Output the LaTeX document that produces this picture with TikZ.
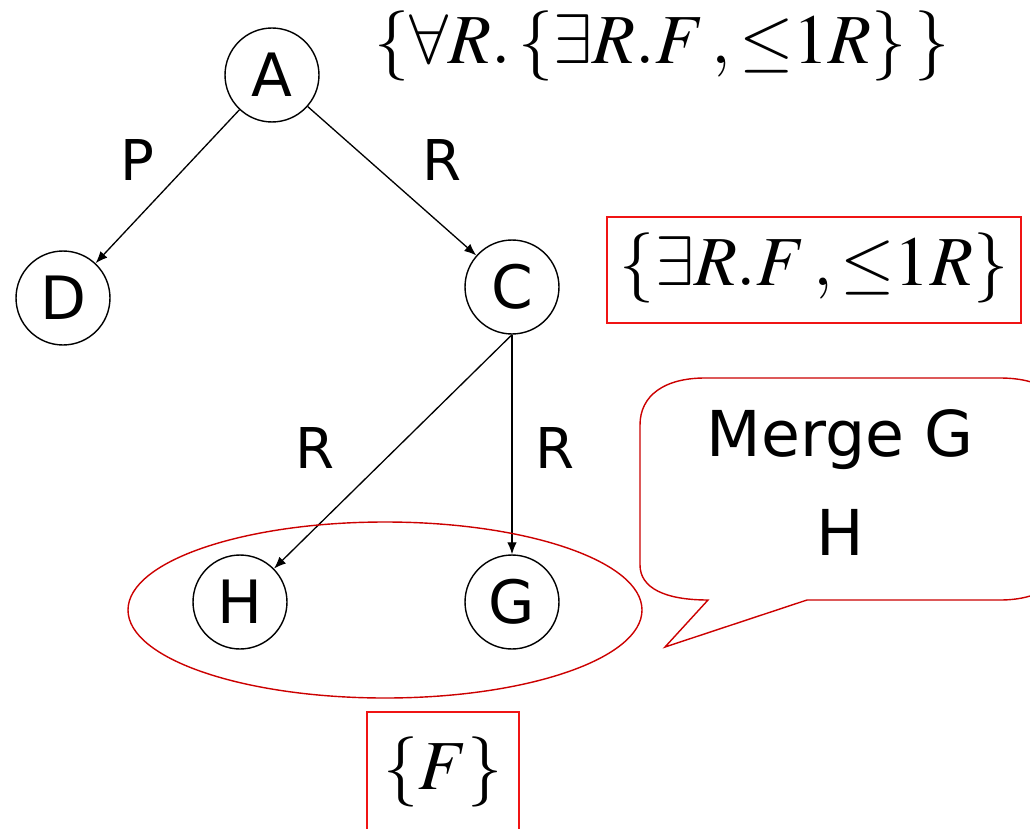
\documentclass[tikz,border=0pt]{standalone}
\usepackage{mathptmx}
\usepackage[no-math]{fontspec}
\setmainfont{DejaVu Sans}
\usetikzlibrary{arrows.meta}
\definecolor{boxred}{RGB}{240,20,20}
\definecolor{darkred}{RGB}{204,0,0}
\begin{document}
\begin{tikzpicture}[x=0.02cm,y=-0.02cm,
  vertex/.style={draw,circle,line width=0.8pt,minimum size=1.88cm,inner sep=0pt,font=\fontsize{34}{40}\selectfont},
  arr/.style={line width=0.75pt,-{Latex[length=2.4mm,width=1.9mm]}},
  elabel/.style={font=\fontsize{32}{38}\selectfont},
  formula/.style={font=\fontsize{40}{46}\selectfont},
  redbox/.style={draw=boxred,line width=0.8pt,inner sep=0pt},
  callout/.style={draw=darkred,line width=0.8pt,fill=white}]
\clip (0,0) rectangle (1030,828);
\fill[white] (0,0) rectangle (1030,828);

% tree vertices
\node[vertex] (A) at (272,75) {A};
\node[vertex] (D) at (63,298) {D};
\node[vertex] (C) at (512,287) {C};
\node[vertex] (H) at (240,602) {H};
\node[vertex] (G) at (512,602) {G};

% role edges
\draw[arr] (A) -- (D);
\draw[arr] (A) -- (C);
\draw[arr] (C.south) -- (H);
\draw[arr] (C.south) -- (G);

\node[elabel] (lP) at (137,160) {P};
\node[elabel] (lR1) at (442,160) {R};
\node[elabel] (lR2) at (315,448) {R};
\node[elabel] (lR3) at (555,448) {R};

% label sets
\node[formula] (fA) at (662,46) {$\{\forall R.\,\{\exists R.F\,,{\leq}1R\}\,\}$};
\draw[redbox] (607,217) rectangle (1021,323);
\node[formula] (fC) at (814,268) {$\{\exists R.F\,,{\leq}1R\}$};

% merged pair
\draw[darkred,line width=0.8pt] (385,610) ellipse [x radius=257, y radius=88];
\draw[redbox] (367,712) rectangle (519,840);
\node[formula] (fF) at (443,772) {$\{F\}$};

% speech bubble
\draw[callout] (708,600) -- (665,647) -- (807,600) -- (1000,600)
  .. controls (1045,600) and (1070,578) .. (1070,545) -- (1070,432)
  .. controls (1070,398) and (1045,378) .. (1000,378) -- (705,378)
  .. controls (665,378) and (640,395) .. (640,425) -- (640,565)
  .. controls (640,588) and (665,600) .. cycle;
\node[font=\fontsize{36}{40}\selectfont] (m1) at (840,440) {Merge G};
\node[font=\fontsize{36}{40}\selectfont] (m2) at (840,532) {H};
\end{tikzpicture}
\end{document}
